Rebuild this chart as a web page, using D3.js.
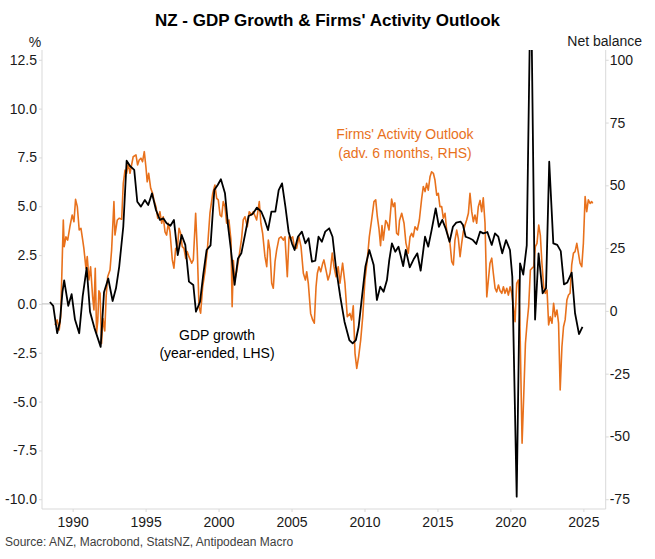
<!DOCTYPE html>
<html><head><meta charset="utf-8">
<script src="https://cdn.jsdelivr.net/npm/d3@7"></script>
<style>body{margin:0;background:#fff}svg{display:block;font-family:"Liberation Sans",Arial,sans-serif}</style>
</head><body><svg id="c" width="655" height="559"></svg>
<script>
// GDP growth, year-ended % (LHS)
const gdpYears = [1988.44,1988.67,1988.94,1989.13,1989.3,1989.42,1989.7,1989.93,1990.16,1990.45,1990.69,1990.96,1991.19,1991.48,1991.7,1991.92,1992.15,1992.44,1992.74,1992.97,1993.19,1993.47,1993.7,1993.93,1994.22,1994.43,1994.68,1994.95,1995.18,1995.44,1995.71,1995.98,1996.21,1996.44,1996.7,1996.94,1997.2,1997.47,1997.72,1997.97,1998.27,1998.45,1998.73,1998.95,1999.18,1999.45,1999.71,1999.95,2000.16,2000.44,2000.65,2000.85,2001.1,2001.33,2001.56,2001.83,2002.06,2002.33,2002.63,2002.93,2003.16,2003.39,2003.62,2003.89,2004.12,2004.35,2004.58,2004.8,2005.03,2005.21,2005.44,2005.71,2005.95,2006.17,2006.4,2006.63,2006.85,2007.08,2007.31,2007.58,2007.81,2008.04,2008.34,2008.63,2008.96,2009.19,2009.41,2009.6,2009.83,2010.06,2010.33,2010.63,2010.85,2011.08,2011.31,2011.54,2011.7,2011.88,2012.11,2012.33,2012.65,2012.83,2013.1,2013.4,2013.62,2013.85,2014.15,2014.37,2014.6,2014.88,2015.1,2015.33,2015.56,2015.83,2016.06,2016.29,2016.59,2016.75,2016.93,2017.2,2017.43,2017.66,2017.92,2018.14,2018.42,2018.72,2018.94,2019.17,2019.44,2019.7,2019.97,2020.13,2020.43,2020.66,2020.88,2021.12,2021.4,2021.69,2021.93,2022.21,2022.44,2022.66,2022.94,2023.21,2023.45,2023.67,2023.9,2024.2,2024.43,2024.7,2024.94];
const gdpValues = [0.1,-0.1,-1.5,-0.9,0.6,1.2,-0.1,0.5,-0.8,-1.5,0.4,1.85,-0.4,-1.2,-1.7,-2.2,0.6,1.3,0.15,0.8,1.9,3.95,7.33,7.06,6.86,5.23,4.98,5.32,5.06,5.66,4.81,4.3,4.38,4.13,4.0,4.3,2.5,3.53,3.02,1.14,0.97,-0.4,0.11,1.5,2.76,3.0,5.83,6.1,6.38,5.66,4.0,2.76,0.97,2.33,2.59,3.61,4.5,4.6,4.93,4.72,4.3,3.78,4.72,4.72,5.83,6.17,4.98,3.7,3.1,2.76,3.44,3.7,3.1,3.36,2.16,2.21,3.44,3.18,3.7,3.87,3.44,1.9,0.37,-0.91,-1.85,-2.02,-1.85,-1.17,0.37,1.9,2.76,1.99,0.2,0.88,0.62,1.22,2.25,3.1,2.67,2.93,1.94,2.76,1.87,2.33,2.59,1.7,3.44,2.93,3.78,4.89,3.95,4.3,3.87,3.18,3.95,4.16,4.21,4.04,3.44,3.36,3.27,3.07,3.7,3.61,3.68,3.02,3.61,3.44,2.59,3.27,2.76,1.39,-9.87,2.08,1.5,3.0,17.4,-0.8,2.59,0.54,0.8,7.28,3.1,3.02,2.7,1.0,1.1,1.6,-0.48,-1.55,-1.17];

// Firms' Activity Outlook, advanced 6 months, net balance (RHS)
const outlookYears = [1988.79,1988.94,1989.08,1989.18,1989.36,1989.42,1989.54,1989.66,1989.81,1989.97,1990.09,1990.2,1990.32,1990.45,1990.57,1990.69,1990.77,1990.91,1991.0,1991.12,1991.23,1991.37,1991.46,1991.55,1991.64,1991.72,1991.8,1991.88,1991.98,1992.08,1992.2,1992.3,1992.4,1992.56,1992.67,1992.83,1992.9,1993.06,1993.2,1993.36,1993.47,1993.59,1993.7,1993.81,1993.93,1994.04,1994.15,1994.34,1994.45,1994.56,1994.68,1994.79,1994.91,1995.02,1995.11,1995.21,1995.35,1995.48,1995.57,1995.71,1995.83,1995.98,1996.1,1996.21,1996.33,1996.44,1996.55,1996.67,1996.83,1996.94,1997.06,1997.17,1997.29,1997.4,1997.51,1997.63,1997.75,1997.85,1997.97,1998.16,1998.27,1998.43,1998.54,1998.66,1998.77,1998.91,1999.07,1999.23,1999.41,1999.6,1999.75,1999.87,1999.98,2000.1,2000.21,2000.32,2000.44,2000.55,2000.71,2000.85,2000.93,2001.02,2001.1,2001.24,2001.42,2001.58,2001.69,2001.81,2001.97,2002.1,2002.27,2002.38,2002.61,2002.79,2002.9,2003.02,2003.18,2003.3,2003.41,2003.52,2003.64,2003.75,2003.87,2003.98,2004.14,2004.28,2004.44,2004.55,2004.71,2004.83,2004.94,2005.08,2005.19,2005.35,2005.51,2005.65,2005.81,2005.95,2006.04,2006.15,2006.31,2006.45,2006.56,2006.68,2006.77,2006.88,2007.0,2007.14,2007.22,2007.36,2007.5,2007.64,2007.79,2007.91,2008.05,2008.2,2008.32,2008.5,2008.66,2008.82,2009.0,2009.12,2009.23,2009.35,2009.47,2009.6,2009.74,2009.88,2010.03,2010.19,2010.33,2010.49,2010.65,2010.77,2010.88,2010.99,2011.1,2011.2,2011.29,2011.45,2011.56,2011.68,2011.86,2011.97,2012.08,2012.2,2012.32,2012.4,2012.55,2012.71,2012.84,2013.0,2013.12,2013.23,2013.34,2013.46,2013.62,2013.76,2013.92,2014.03,2014.15,2014.26,2014.37,2014.49,2014.6,2014.72,2014.83,2014.95,2015.06,2015.17,2015.29,2015.4,2015.52,2015.63,2015.74,2015.86,2015.98,2016.09,2016.2,2016.32,2016.43,2016.55,2016.66,2016.77,2016.89,2017.0,2017.12,2017.23,2017.35,2017.46,2017.57,2017.69,2017.8,2017.92,2018.03,2018.14,2018.26,2018.38,2018.49,2018.6,2018.72,2018.83,2018.95,2019.06,2019.18,2019.29,2019.41,2019.52,2019.63,2019.75,2019.86,2019.98,2020.09,2020.2,2020.32,2020.43,2020.55,2020.64,2020.8,2020.91,2021.03,2021.14,2021.25,2021.37,2021.48,2021.6,2021.71,2021.82,2021.94,2022.05,2022.16,2022.28,2022.39,2022.51,2022.62,2022.73,2022.85,2022.96,2023.07,2023.19,2023.3,2023.41,2023.53,2023.64,2023.75,2023.87,2023.98,2024.09,2024.2,2024.32,2024.43,2024.55,2024.66,2024.77,2024.89,2025.0,2025.12,2025.23,2025.34,2025.46,2025.57,2025.64];
const outlookValues = [-5.6,-3.6,-7.6,-2.3,36.2,25.6,29.5,28.2,33.5,38.2,35.5,44.4,41.5,32.2,32.9,28.2,24.9,17,21.6,12.3,17.6,5.6,0.35,17,-8.9,-4,8,7,-13,-3,-8,6,13.6,16.3,24.2,43.5,30.2,36.2,36.9,36.5,50.8,56.1,54.8,58.8,54.8,58.1,61.4,62.1,58.1,60.1,60.8,59.4,63.4,57.4,51.4,54.8,48.8,46.8,44.2,41.5,36.9,39.5,34.9,37.5,31.5,30.2,34.9,31.5,20.3,17,24.9,24.2,32.9,30.9,25.6,24.9,20.9,23.6,21.6,19,20.3,38.9,24.2,1.7,-0.9,9.6,15.6,24.2,38.9,46.8,50.1,44.8,44.2,38.2,37.5,43.5,41.5,34.9,36.2,28.2,1.7,20,12,15.6,22.3,28.9,36.2,37.5,33.5,39.5,38.2,39.5,36.2,43.5,34.9,30.9,21.6,17.6,28.2,24.2,11,9,19.6,24.2,28.9,29.5,28.2,29.5,13.6,29.5,28.9,29.5,25.6,24.9,29.5,25.6,15,12.3,15.6,11,-1,-3.6,-4.9,9.6,15,17.6,15.6,19,20.3,16.3,12.3,15,23,17.6,13.6,17.6,11,19,11,-2.3,-1,-3.6,2,-16.9,-22.9,-18.2,-11.6,-2.3,12.3,20.3,29.5,36.2,43.5,44.2,37.5,32.9,26,34,28.2,36,34.9,32.2,44.5,41.5,43,30.9,30.2,36,38.9,34.9,27,23,29.5,30.9,29.5,33.5,32.2,36.2,44.8,49.5,47.5,50.8,48.1,53.4,55.4,54.8,52.1,46.1,46.8,41.5,41.5,36.9,38.9,32.2,29.5,26.9,19.6,18.3,28.2,32.2,28.9,21.6,26.9,31.5,34.2,36.2,38.9,46.8,39.5,35.5,38.2,34.9,41.5,44,39.5,45,34.9,5.6,12.3,19,21,15,9,7.6,10.3,8,7,9.6,7,9,6.3,9.6,7,1.7,-4.3,11,12.3,-1,-52.7,-34.2,-12.9,-4.9,1.7,16.3,17,17.6,25.6,26.9,34.2,30.2,19,9.6,7,8.3,-5.6,-2.3,-4.9,3,-2.3,0.35,-4.9,-31.5,-14.3,-6.3,-3.6,4.3,6.3,7,18.3,23,23.6,26.9,23,19,17.6,26.9,45.5,39.5,44.2,42.8,43.5,42.8];

const leftTicks = [-10,-7.5,-5,-2.5,0,2.5,5,7.5,10,12.5];
const rightTicks = [-75,-50,-25,0,25,50,75,100];
const yearTicks = [1990,1995,2000,2005,2010,2015,2020,2025];

const svg = d3.select("#c");
const m = {l:42, r:605.7, t:50, b:509};
const x = d3.scaleLinear().domain([1987.9, 2026.53]).range([m.l, m.r]);
const yL = d3.scaleLinear().domain([-10.5, 13]).range([m.b, m.t]);
const toR = v => v*175/22.5 + (100 - 12.5*175/22.5);
const yR = d3.scaleLinear().domain([toR(-10.5), toR(13)]).range([m.b, m.t]);

const axisCol = "#d9d9d9", textCol = "#1a1a1a";
const hy = f => d => f(d).replace("\u2212", "-");

// title
svg.append("text").attr("x", 327.5).attr("y", 26).attr("text-anchor","middle")
  .attr("font-size",17).attr("font-weight","bold").attr("fill","#000")
  .text("NZ - GDP Growth & Firms' Activity Outlook");

// axis frame lines
svg.append("line").attr("x1",m.l).attr("x2",m.l).attr("y1",m.t).attr("y2",m.b).attr("stroke",axisCol);
svg.append("line").attr("x1",m.r).attr("x2",m.r).attr("y1",m.t).attr("y2",m.b).attr("stroke",axisCol);
svg.append("line").attr("x1",m.l).attr("x2",m.r).attr("y1",m.b).attr("y2",m.b).attr("stroke",axisCol);

function styleAxis(g){
  g.select(".domain").remove();
  g.selectAll(".tick line").attr("stroke",axisCol);
  g.selectAll(".tick text").attr("fill",textCol).attr("font-size",14).attr("font-family",'"Liberation Sans",Arial,sans-serif');
}
svg.append("g").attr("transform",`translate(${m.l},0)`)
  .call(d3.axisLeft(yL).tickValues(leftTicks).tickFormat(hy(d3.format(".1f"))).tickSize(3).tickPadding(2))
  .call(styleAxis);
svg.append("g").attr("transform",`translate(${m.r},0)`)
  .call(d3.axisRight(yR).tickValues(rightTicks).tickFormat(hy(d3.format("d"))).tickSize(3).tickPadding(1))
  .call(styleAxis);
svg.append("g").attr("transform",`translate(0,${m.b})`)
  .call(d3.axisBottom(x).tickValues(yearTicks).tickFormat(d3.format("d")).tickSize(3).tickPadding(5))
  .call(styleAxis);

// axis unit labels
svg.append("text").attr("x",35).attr("y",47).attr("text-anchor","middle").attr("font-size",14).attr("fill",textCol).text("%");
svg.append("text").attr("x",642).attr("y",46).attr("text-anchor","end").attr("font-size",14).attr("fill",textCol).text("Net balance");

// zero line
svg.append("line").attr("x1",m.l).attr("x2",m.r).attr("y1",yL(0)).attr("y2",yL(0)).attr("stroke","#bdbdbd");

// clip
svg.append("clipPath").attr("id","clip").append("rect").attr("x",m.l).attr("y",m.t).attr("width",m.r-m.l).attr("height",m.b-m.t);

const orangeCol = "#e8711c";
const lineR = d3.line().x(i=>x(outlookYears[i])).y(i=>yR(outlookValues[i]));
const lineL = d3.line().x(i=>x(gdpYears[i])).y(i=>yL(gdpValues[i]));
svg.append("path").attr("clip-path","url(#clip)").attr("d", lineR(d3.range(outlookYears.length)))
  .attr("fill","none").attr("stroke",orangeCol).attr("stroke-width",1.6).attr("stroke-linejoin","round");
svg.append("path").attr("clip-path","url(#clip)").attr("d", lineL(d3.range(gdpYears.length)))
  .attr("fill","none").attr("stroke","#000").attr("stroke-width",1.8).attr("stroke-linejoin","round");

// annotations
const ann = svg.append("g").attr("font-size",14).attr("text-anchor","middle");
ann.append("text").attr("x",405).attr("y",139).attr("fill",orangeCol).text("Firms' Activity Outlook");
ann.append("text").attr("x",405).attr("y",158).attr("fill",orangeCol).text("(adv. 6 months, RHS)");
ann.append("text").attr("x",217).attr("y",340).attr("fill","#000").text("GDP growth");
ann.append("text").attr("x",217).attr("y",358).attr("fill","#000").text("(year-ended, LHS)");

// source
svg.append("text").attr("x",5).attr("y",546).attr("font-size",12).attr("fill","#404040")
  .text("Source: ANZ, Macrobond, StatsNZ, Antipodean Macro");
</script></body></html>
